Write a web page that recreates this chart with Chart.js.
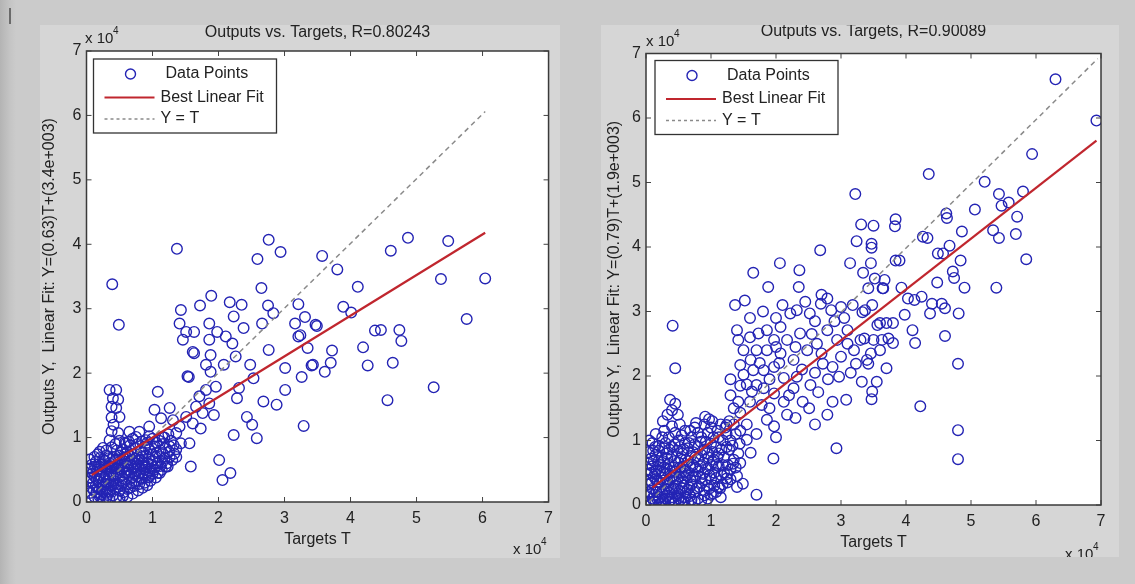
<!DOCTYPE html>
<html>
<head>
<meta charset="utf-8">
<script src="https://cdn.jsdelivr.net/npm/chart.js@4.4.0/dist/chart.umd.min.js"></script>
<style>
  body { margin:0; width:1135px; height:584px; background:#cbcbcb; position:relative; overflow:hidden; }
  .strip { position:absolute; left:0; top:0; width:16px; height:584px; background:linear-gradient(to right,#b4b4b4,#c4c4c4 60%,#cbcbcb); }
  .mark { position:absolute; left:9px; top:8px; width:2px; height:16px; background:#6a6a6a; }
  .panel { position:absolute; background:#d6d6d6; }
  #p1 { left:40px; top:25px; width:520px; height:533px; }
  #p2 { left:601px; top:25px; width:518px; height:532px; }
  canvas { position:absolute; left:0; top:0; }
</style>
</head>
<body>
<div class="strip"></div><div class="mark"></div>
<div class="panel" id="p1"><canvas id="chartLeft" width="520" height="533"></canvas></div>
<div class="panel" id="p2"><canvas id="chartRight" width="518" height="532"></canvas></div>
<script>
// values are in units of 10^4 (targets T on x, outputs Y on y)
const tickValues = [0, 1, 2, 3, 4, 5, 6, 7];

// left panel, dense cloud near the origin
const leftCluster = [
  [0.12,0.08],[0.18,0.05],[0.25,0.03],[0.30,0.06],[0.35,0.04],[0.22,0.12],[0.15,0.15],[0.28,0.14],[0.40,0.10],[0.45,0.07],
  [0.08,0.22],[0.14,0.25],[0.20,0.20],[0.26,0.24],[0.32,0.20],[0.38,0.25],[0.44,0.20],[0.50,0.18],[0.56,0.15],[0.62,0.20],
  [0.10,0.30],[0.18,0.32],[0.24,0.30],[0.30,0.32],[0.36,0.30],[0.42,0.33],[0.48,0.28],[0.55,0.30],[0.60,0.27],[0.68,0.30],[0.72,0.25],
  [0.06,0.38],[0.12,0.40],[0.20,0.42],[0.27,0.38],[0.33,0.43],[0.40,0.40],[0.46,0.44],[0.52,0.40],[0.58,0.45],[0.65,0.42],[0.70,0.38],[0.78,0.40],[0.84,0.36],[0.90,0.42],
  [0.10,0.48],[0.16,0.50],[0.24,0.50],[0.30,0.52],[0.37,0.48],[0.44,0.52],[0.50,0.50],[0.57,0.54],[0.63,0.50],[0.70,0.52],[0.76,0.48],[0.82,0.52],[0.88,0.50],[0.96,0.47],[1.02,0.50],
  [0.08,0.58],[0.14,0.62],[0.22,0.58],[0.28,0.64],[0.35,0.60],[0.42,0.62],[0.48,0.58],[0.55,0.64],[0.62,0.60],[0.68,0.65],[0.75,0.60],[0.80,0.66],[0.86,0.62],[0.93,0.60],[1.00,0.64],[1.08,0.60],[1.15,0.62],
  [0.12,0.70],[0.20,0.68],[0.30,0.72],[0.40,0.70],[0.50,0.72],[0.60,0.70],[0.70,0.74],[0.78,0.70],[0.90,0.72],[1.00,0.74],[1.10,0.70],
  [0.20,0.78],[0.30,0.80],[0.38,0.85],[0.46,0.80],[0.55,0.82],[0.62,0.78],[0.66,0.88],[0.74,0.84],[0.82,0.80],[0.88,0.86],[0.95,0.82],[1.04,0.86],[1.12,0.80],[1.20,0.84],[1.25,0.78],
  [0.50,0.95],[0.58,0.92],[0.70,0.98],[0.84,0.94],[1.00,0.98],[1.10,0.95],[1.18,1.00],[1.28,0.95],[1.32,0.88],
  [0.08,0.03],[0.20,0.09],[0.32,0.11],[0.50,0.05],[0.55,0.09],[0.62,0.08],[0.70,0.13],[0.78,0.18],[0.85,0.22],[0.92,0.26],
  [0.05,0.14],[0.11,0.18],[0.17,0.22],[0.24,0.17],[0.29,0.27],[0.35,0.16],[0.41,0.27],[0.47,0.23],[0.53,0.26],[0.66,0.22],[0.75,0.32],[0.80,0.28],[0.88,0.30],[0.97,0.33],[1.05,0.38],
  [0.04,0.32],[0.09,0.44],[0.15,0.36],[0.23,0.46],[0.30,0.40],[0.36,0.37],[0.43,0.41],[0.49,0.46],[0.55,0.37],[0.61,0.46],[0.68,0.45],[0.74,0.44],[0.81,0.45],[0.87,0.44],[0.93,0.38],[1.00,0.44],[1.08,0.45],[1.14,0.50],[1.20,0.55],
  [0.05,0.52],[0.13,0.55],[0.19,0.55],[0.27,0.56],[0.33,0.55],[0.40,0.55],[0.47,0.54],[0.53,0.58],[0.60,0.56],[0.67,0.57],[0.73,0.55],[0.79,0.57],[0.85,0.56],[0.91,0.54],[0.99,0.56],[1.05,0.55],[1.12,0.56],[1.22,0.60],[1.30,0.65],
  [0.05,0.66],[0.17,0.74],[0.25,0.66],[0.34,0.68],[0.45,0.66],[0.52,0.77],[0.57,0.68],[0.65,0.72],[0.73,0.67],[0.84,0.70],[0.95,0.68],[1.05,0.70],[1.18,0.68],[1.26,0.70],[1.33,0.75],[1.15,0.76],[0.86,0.76],[0.58,0.74],
  [0.25,0.84],[0.44,0.90],[0.64,0.94],[0.78,0.90],[0.92,0.92],[1.06,0.92],[1.16,0.90],[1.24,1.05],[0.95,1.02],[1.36,0.82]
];
// left panel, the spread-out points
const leftScatter = [
  [0.39,3.38],[1.37,3.93],[2.76,4.07],[2.94,3.88],[2.59,3.77],[2.65,3.32],[1.89,3.20],[1.72,3.05],[1.43,2.98],[2.17,3.10],[2.35,3.06],
  [2.75,3.05],[3.21,3.07],[3.57,3.82],[3.80,3.61],[4.11,3.34],[3.89,3.03],[4.61,3.90],[4.87,4.10],[5.48,4.05],[5.37,3.46],[6.04,3.47],
  [3.31,2.87],[3.47,2.75],[3.49,2.73],[3.24,2.59],[4.01,2.94],[3.35,2.39],[3.72,2.35],[4.19,2.40],[3.41,2.12],[3.43,2.13],[3.70,2.16],
  [3.61,2.02],[3.26,1.94],[4.26,2.12],[4.37,2.66],[4.46,2.67],[4.74,2.67],[4.77,2.50],[4.64,2.16],[5.76,2.84],[5.26,1.78],[4.56,1.58],[3.29,1.18],
  [0.49,2.75],[1.41,2.77],[1.51,2.64],[1.63,2.64],[1.46,2.52],[1.86,2.77],[1.98,2.64],[1.86,2.52],[2.11,2.57],[2.23,2.88],[2.38,2.70],[2.21,2.46],
  [1.61,2.33],[1.63,2.31],[2.26,2.26],[1.88,2.28],[1.81,2.13],[1.88,2.02],[1.53,1.95],[1.55,1.94],[2.08,2.13],[2.48,2.13],[2.66,2.77],[2.76,2.36],
  [2.83,2.93],[3.16,2.77],[3.21,2.57],[3.01,2.08],[2.68,1.56],[2.88,1.51],[3.01,1.74],[2.53,1.92],[2.28,1.61],[2.31,1.77],[2.43,1.32],[2.51,1.20],
  [2.58,0.99],[2.23,1.04],[2.01,0.65],[2.18,0.45],[2.06,0.34],[1.96,1.79],[1.81,1.74],[1.71,1.64],[1.66,1.48],[1.76,1.38],[1.86,1.53],[1.93,1.35],
  [1.51,1.32],[1.41,1.17],[1.61,1.22],[1.73,1.14],[1.56,0.91],[1.58,0.55],[1.08,1.71],[1.03,1.43],[1.26,1.46],[1.13,1.30],[1.31,1.27],[0.95,1.17],
  [1.36,1.07],[1.43,0.91],[1.36,0.70],[1.23,0.55],[1.11,0.45],[0.95,0.39],[0.88,0.55],[1.26,0.86],[1.15,1.01],[1.06,0.76],
  [0.35,1.74],[0.45,1.74],[0.40,1.61],[0.48,1.59],[0.38,1.48],[0.45,1.46],[0.38,1.31],[0.50,1.32],[0.41,1.20],[0.38,1.10],[0.48,1.07],[0.35,0.96],
  [0.65,1.09],[0.75,1.01],[0.80,1.09],[0.90,0.96],[0.60,0.91]
];
const leftFit = [[0.08,0.42],[6.04,4.18]];
const leftIdeal = [[0.08,0.08],[6.04,6.06]];

// right panel, dense cloud near the origin
const rightCluster = [
  [0.05,0.05],[0.10,0.10],[0.15,0.04],[0.20,0.12],[0.25,0.06],[0.30,0.10],[0.35,0.05],[0.40,0.12],[0.45,0.06],[0.50,0.10],[0.55,0.04],[0.60,0.12],[0.70,0.08],[0.80,0.10],[0.90,0.15],
  [0.04,0.20],[0.10,0.25],[0.16,0.20],[0.22,0.28],[0.28,0.22],[0.34,0.30],[0.40,0.24],[0.46,0.30],[0.52,0.22],[0.58,0.30],[0.64,0.24],[0.70,0.32],[0.78,0.26],[0.86,0.34],[0.94,0.30],[1.00,0.40],
  [0.06,0.38],[0.12,0.44],[0.18,0.36],[0.24,0.42],[0.30,0.48],[0.36,0.40],[0.42,0.46],[0.48,0.40],[0.54,0.50],[0.60,0.42],[0.66,0.50],[0.72,0.44],[0.80,0.52],[0.88,0.48],[0.95,0.56],[1.05,0.50],[1.12,0.60],
  [0.04,0.55],[0.10,0.60],[0.16,0.54],[0.22,0.62],[0.28,0.58],[0.35,0.64],[0.42,0.58],[0.50,0.66],[0.58,0.60],[0.65,0.68],[0.72,0.62],[0.80,0.70],[0.88,0.66],[0.96,0.74],[1.04,0.70],[1.12,0.80],[1.20,0.74],[1.28,0.86],
  [0.08,0.72],[0.15,0.78],[0.24,0.74],[0.32,0.80],[0.40,0.76],[0.48,0.84],[0.56,0.80],[0.64,0.88],[0.72,0.82],[0.80,0.90],[0.90,0.86],[1.00,0.95],[1.08,0.90],[1.18,1.00],[1.30,1.00],[1.38,1.10],
  [0.20,0.92],[0.30,0.96],[0.40,0.90],[0.50,1.00],[0.60,0.96],[0.70,1.05],[0.85,1.05],[0.95,1.12],[1.10,1.15],[1.22,1.20],[1.35,1.25],[0.60,1.15],[0.75,1.20],[0.90,1.25],[1.02,1.30],
  [0.10,0.96],[0.25,1.05],[0.15,1.10],[1.20,0.50],[1.30,0.55],[1.40,0.45],[1.45,0.65],[1.35,0.70],[1.25,0.35],
  [0.08,0.02],[0.12,0.06],[0.18,0.08],[0.22,0.02],[0.28,0.04],[0.32,0.14],[0.38,0.08],[0.43,0.02],[0.48,0.14],[0.53,0.08],[0.58,0.06],[0.65,0.04],[0.68,0.14],[0.75,0.05],[0.85,0.07],[0.95,0.10],[1.00,0.16],[1.08,0.20],[1.15,0.12],
  [0.02,0.14],[0.07,0.17],[0.13,0.16],[0.19,0.24],[0.25,0.17],[0.31,0.24],[0.37,0.19],[0.43,0.26],[0.49,0.18],[0.55,0.26],[0.61,0.18],[0.67,0.27],[0.74,0.20],[0.82,0.28],[0.90,0.22],[0.97,0.25],[1.05,0.30],[1.12,0.28],[1.18,0.32],[1.30,0.40],
  [0.03,0.32],[0.09,0.35],[0.15,0.40],[0.21,0.34],[0.27,0.38],[0.33,0.36],[0.39,0.42],[0.45,0.36],[0.51,0.44],[0.57,0.36],[0.63,0.46],[0.69,0.38],[0.76,0.44],[0.84,0.42],[0.91,0.40],[0.98,0.46],[1.08,0.42],[1.16,0.46],[1.25,0.48],[1.38,0.58],
  [0.02,0.48],[0.08,0.50],[0.14,0.48],[0.20,0.52],[0.26,0.50],[0.32,0.56],[0.38,0.52],[0.45,0.52],[0.52,0.58],[0.60,0.52],[0.68,0.58],[0.76,0.58],[0.84,0.60],[0.92,0.56],[1.00,0.62],[1.08,0.62],[1.18,0.62],[1.26,0.62],[1.34,0.64],[1.42,0.80],
  [0.03,0.64],[0.12,0.68],[0.19,0.68],[0.26,0.68],[0.33,0.72],[0.44,0.68],[0.53,0.72],[0.61,0.70],[0.69,0.76],[0.76,0.74],[0.85,0.78],[0.94,0.80],[1.02,0.82],[1.10,0.74],[1.16,0.86],[1.24,0.90],[1.33,0.92],[1.44,0.95],
  [0.04,0.82],[0.11,0.84],[0.20,0.84],[0.28,0.88],[0.36,0.86],[0.44,0.94],[0.52,0.90],[0.58,0.86],[0.66,0.96],[0.75,0.94],[0.84,0.98],[0.92,0.98],[1.04,1.05],[1.12,1.05],[1.24,1.10],[1.45,1.15],
  [0.05,1.00],[0.35,1.05],[0.45,1.12],[0.55,1.08],[0.68,1.15],[0.80,1.12],[1.00,1.20],[1.15,1.25],[1.28,1.30],[0.40,1.22],[0.52,1.25],[0.28,1.15]
];
// right panel, the spread-out points
const rightScatter = [
  [6.30,6.60],[6.93,5.96],[5.94,5.44],[4.35,5.13],[3.22,4.82],[5.21,5.01],[5.43,4.82],[5.58,4.69],[5.47,4.64],[5.80,4.86],[5.71,4.47],[5.06,4.58],
  [5.34,4.26],[5.43,4.14],[5.69,4.20],[5.85,3.81],[5.39,3.37],[4.62,4.52],[4.63,4.45],[4.86,4.24],[4.67,4.02],[4.49,3.90],[4.57,3.90],[4.84,3.79],
  [4.72,3.62],[4.74,3.52],[4.48,3.45],[4.90,3.37],[4.26,4.16],[4.33,4.14],[3.84,4.43],[3.83,4.32],[3.84,3.79],[3.90,3.79],[3.31,4.35],[3.50,4.33],
  [3.24,4.09],[3.47,4.05],[3.47,3.99],[2.68,3.95],[3.14,3.75],[3.46,3.75],[2.06,3.75],[1.65,3.60],[2.36,3.64],[1.88,3.38],[2.35,3.38],[3.34,3.60],
  [3.52,3.51],[3.67,3.49],[3.64,3.36],[3.42,3.36],[3.93,3.37],[2.70,3.26],[2.79,3.20],[1.37,3.10],[1.52,3.17],[4.03,3.20],[4.24,3.23],[4.40,3.12],[4.55,3.12],
  [4.81,2.97],[4.60,3.05],[4.37,2.97],[4.13,3.18],[3.98,2.95],[4.60,2.62],[4.10,2.71],[4.14,2.51],[4.80,2.19],[4.22,1.53],[4.80,1.16],[4.80,0.71],
  [3.70,2.12],[3.55,1.91],[3.47,1.64],[3.32,1.91],[3.40,2.25],[3.42,2.19],[3.60,2.40],[3.80,2.51],[3.50,2.56],[3.63,2.56],[3.73,2.58],[3.36,2.58],
  [3.60,2.82],[3.70,2.82],[3.80,2.82],[3.37,3.02],[3.65,3.36],
  [0.41,2.78],[0.45,2.12],[0.37,1.63],[0.45,1.57],[0.40,1.47],[0.33,1.40],[0.49,1.40],[0.26,1.30],[0.14,0.90],[0.91,1.37],[0.97,1.33],[0.77,1.27],
  [1.24,1.24],[1.42,1.60],[1.35,1.50],[1.45,1.43],[1.40,2.71],[1.42,2.56],[1.50,2.40],[1.45,2.17],[1.61,2.25],[1.50,2.02],[1.55,1.87],[1.63,1.76],
  [1.55,1.01],[1.61,0.81],[1.70,0.16],[1.49,0.33],[1.24,0.41],[1.14,0.26],[1.40,0.28],[1.03,0.18],[1.73,2.66],[1.86,2.71],[1.97,2.56],[2.07,2.76],
  [2.22,2.97],[2.32,3.02],[2.52,2.97],[2.69,3.12],[2.85,3.02],[3.00,3.07],[3.18,3.10],[3.33,2.99],[3.48,3.10],[3.56,2.79],[1.70,2.40],[1.86,2.40],
  [1.65,2.09],[1.81,2.09],[1.97,2.14],[2.07,2.35],[2.17,2.56],[2.37,2.66],[2.48,2.40],[2.63,2.50],[2.79,2.71],[2.94,2.56],[3.10,2.71],[3.20,2.40],
  [3.30,2.56],[3.46,2.35],[3.23,2.19],[2.72,2.19],[2.87,2.14],[2.97,1.99],[3.48,1.76],[2.87,1.60],[3.08,1.63],[2.79,1.40],[2.93,0.88],[2.51,1.50],
  [2.41,1.60],[2.27,1.81],[2.12,1.97],[2.32,1.99],[2.53,1.86],[1.97,1.73],[2.12,1.60],[2.17,1.40],[1.97,1.22],[1.96,0.72],[1.86,1.32],[1.78,1.55],
  [2.27,2.25],[1.70,1.86],[1.81,1.81],
  [1.60,2.90],[1.80,3.00],[2.00,2.90],[2.10,3.10],[2.45,3.15],[2.60,2.85],[2.90,2.85],[3.05,2.90],[2.00,2.45],[2.30,2.45],[2.55,2.65],[2.70,2.35],
  [3.00,2.30],[3.10,2.50],[2.60,2.05],[2.40,2.10],[2.05,2.20],[1.90,1.95],[2.20,1.70],[2.65,1.75],[2.80,1.95],[3.15,2.05],[1.60,2.60],[1.75,2.20],
  [1.60,1.60],[1.90,1.50],[2.30,1.35],[2.60,1.25],[1.55,1.25],[1.70,1.10],[2.00,1.05],[1.45,1.85],[1.30,1.95],[1.30,1.70]
];
const rightFit = [[0.10,0.27],[6.93,5.65]];
const rightIdeal = [[0.05,0.05],[6.95,6.92]];

const markerColor = "rgb(36,36,180)";
const textColor = "#222222";
const font = '"Liberation Sans", Arial, sans-serif';

function toXY(list) {
  return list.map(function(p) { return {x: p[0], y: p[1]}; });
}

// white axes box, inward ticks, titles and the legend
const matlabAxes = {
  id: "matlabAxes",
  beforeDatasetsDraw(chart) {
    const a = chart.chartArea, ctx = chart.ctx;
    ctx.save();
    ctx.fillStyle = "#ffffff";
    ctx.fillRect(a.left, a.top, a.right - a.left, a.bottom - a.top);
    ctx.restore();
  },
  afterDraw(chart, args, o) {
    const a = chart.chartArea, ctx = chart.ctx;
    const xs = chart.scales.x, ys = chart.scales.y;
    ctx.save();
    // ticks
    ctx.strokeStyle = "#444";
    ctx.lineWidth = 1;
    tickValues.forEach(function(v) {
      const px = xs.getPixelForValue(v), py = ys.getPixelForValue(v);
      ctx.beginPath();
      ctx.moveTo(px, a.bottom); ctx.lineTo(px, a.bottom - 5);
      ctx.moveTo(px, a.top); ctx.lineTo(px, a.top + 5);
      ctx.moveTo(a.left, py); ctx.lineTo(a.left + 5, py);
      ctx.moveTo(a.right, py); ctx.lineTo(a.right - 5, py);
      ctx.stroke();
    });
    // box
    ctx.strokeStyle = "#3a3a3a";
    ctx.lineWidth = 1.5;
    ctx.strokeRect(a.left, a.top, a.right - a.left, a.bottom - a.top);

    ctx.fillStyle = textColor;
    ctx.textBaseline = "middle";
    ctx.font = "16px " + font;
    // title
    ctx.textAlign = "center";
    ctx.fillText(o.title, (a.left + a.right) / 2, o.titleY);
    // x label
    ctx.fillText("Targets T", (a.left + a.right) / 2, o.xTitleY);
    // y label
    ctx.save();
    ctx.translate(o.yTitleX, (a.top + a.bottom) / 2);
    ctx.rotate(-Math.PI / 2);
    ctx.fillText(o.yTitle, 0, 0);
    ctx.restore();
    // exponents
    ctx.textAlign = "left";
    ctx.font = "15px " + font;
    ctx.fillText("x 10", o.yExp[0], o.yExp[1]);
    ctx.fillText("x 10", o.xExp[0], o.xExp[1]);
    ctx.font = "10px " + font;
    ctx.fillText("4", o.yExp[0] + 28, o.yExp[1] - 8);
    ctx.fillText("4", o.xExp[0] + 28, o.xExp[1] - 8);

    // legend
    const lx = a.left + o.legend[0], ly = a.top + o.legend[1];
    ctx.fillStyle = "#ffffff";
    ctx.fillRect(lx, ly, 183, 74);
    ctx.strokeStyle = "#333";
    ctx.lineWidth = 1.3;
    ctx.strokeRect(lx, ly, 183, 74);
    ctx.beginPath();
    ctx.arc(lx + 37, ly + 15, 5, 0, Math.PI * 2);
    ctx.strokeStyle = markerColor;
    ctx.lineWidth = 1.4;
    ctx.stroke();
    ctx.beginPath();
    ctx.moveTo(lx + 11, ly + 38.5); ctx.lineTo(lx + 61, ly + 38.5);
    ctx.strokeStyle = "#c0262e";
    ctx.lineWidth = 2.2;
    ctx.stroke();
    ctx.beginPath();
    ctx.setLineDash([3, 3]);
    ctx.moveTo(lx + 11, ly + 60); ctx.lineTo(lx + 61, ly + 60);
    ctx.strokeStyle = "#8a8a8a";
    ctx.lineWidth = 1.5;
    ctx.stroke();
    ctx.setLineDash([]);
    ctx.fillStyle = textColor;
    ctx.font = "16px " + font;
    ctx.fillText("Data Points", lx + 72, ly + 15);
    ctx.fillText("Best Linear Fit", lx + 67, ly + 38.5);
    ctx.fillText("Y = T", lx + 67, ly + 60);
    ctx.restore();
  }
};

function makeChart(id, cluster, scatter, fit, ideal, opts) {
  return new Chart(document.getElementById(id), {
    type: "scatter",
    data: {
      datasets: [{
        data: toXY(fit),
        showLine: true,
        borderColor: "#c0262e",
        borderWidth: 2.2,
        pointRadius: 0,
        order: 0
      }, {
        data: toXY(ideal),
        showLine: true,
        borderColor: "#8a8a8a",
        borderWidth: 1.5,
        borderDash: [5, 4],
        pointRadius: 0,
        order: 1
      }, {
        data: toXY(cluster.concat(scatter)),
        pointRadius: 5.3,
        pointBorderColor: markerColor,
        pointBackgroundColor: "rgba(0,0,0,0)",
        pointBorderWidth: 1.4,
        clip: 0,
        order: 2
      }]
    },
    options: {
      responsive: false,
      animation: false,
      events: [],
      layout: { padding: { left: 0, top: opts.top, right: opts.right, bottom: 0 } },
      plugins: {
        legend: { display: false },
        tooltip: { enabled: false },
        matlabAxes: opts
      },
      scales: {
        x: {
          type: "linear", min: 0, max: 7,
          afterBuildTicks: function(s) { s.ticks = tickValues.map(function(v) { return {value: v}; }); },
          afterFit: function(s) { s.height = opts.xHeight; },
          grid: { display: false, drawTicks: false },
          border: { display: false },
          ticks: { color: textColor, padding: 7, font: { size: 16, family: font } }
        },
        y: {
          type: "linear", min: 0, max: 7,
          afterBuildTicks: function(s) { s.ticks = tickValues.map(function(v) { return {value: v}; }); },
          afterFit: function(s) { s.width = opts.yWidth; },
          grid: { display: false, drawTicks: false },
          border: { display: false },
          ticks: { color: textColor, padding: 5, font: { size: 16, family: font } }
        }
      }
    },
    plugins: [matlabAxes]
  });
}

makeChart("chartLeft", leftCluster, leftScatter, leftFit, leftIdeal, {
  top: 26, right: 8, xHeight: 56, yWidth: 46.5,
  title: "Outputs vs. Targets, R=0.80243",
  yTitle: "Outputs Y,  Linear Fit: Y=(0.63)T+(3.4e+003)",
  titleY: 8, xTitleY: 515, yTitleX: 10,
  yExp: [45, 14], xExp: [473, 525],
  legend: [7, 8]
});

makeChart("chartRight", rightCluster, rightScatter, rightFit, rightIdeal, {
  top: 28.5, right: 18, xHeight: 52, yWidth: 45,
  title: "Outputs vs. Targets, R=0.90089",
  yTitle: "Outputs Y,  Linear Fit: Y=(0.79)T+(1.9e+003)",
  titleY: 7, xTitleY: 518, yTitleX: 14,
  yExp: [45, 17], xExp: [464, 530],
  legend: [9, 7]
});
</script>
</body>
</html>
